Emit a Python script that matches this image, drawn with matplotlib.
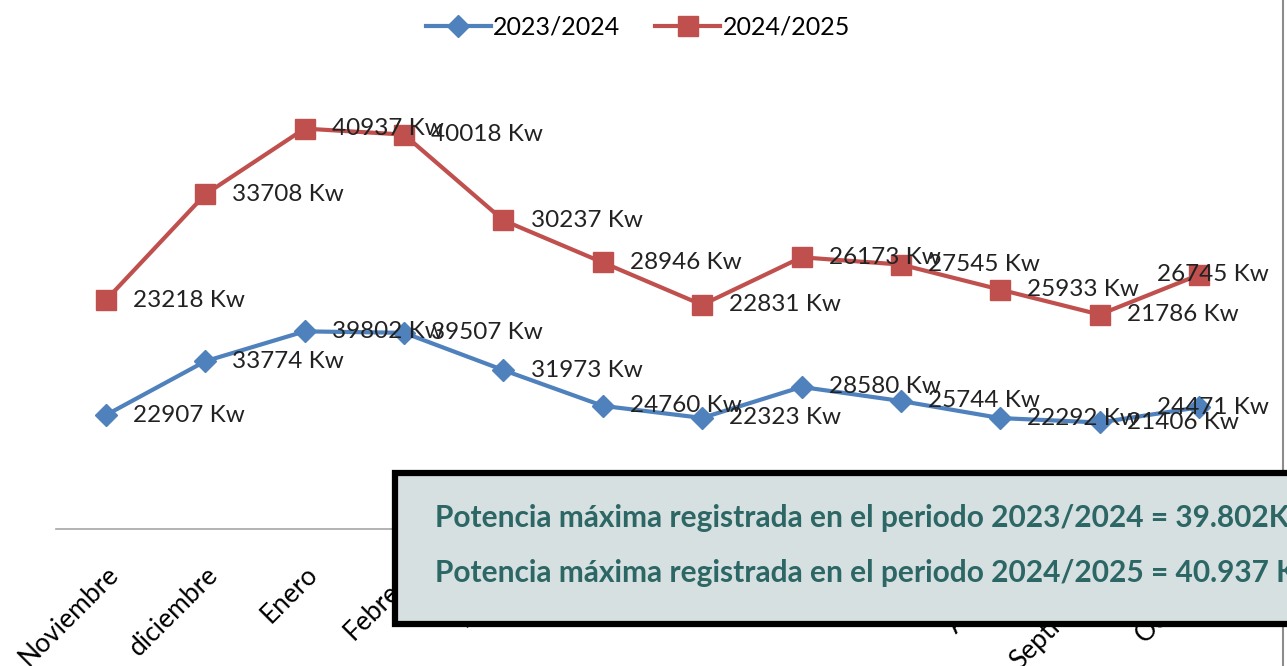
import matplotlib
matplotlib.use("Agg")
import matplotlib.pyplot as plt
from matplotlib.patches import Rectangle
from matplotlib.lines import Line2D
import numpy as np

meses = ["Noviembre", "diciembre", "Enero", "Febrero", "Marzo", "Abril",
         "Mayo", "Junio", "Julio", "Agosto", "Septiembre", "Octubre"]
serie_2324 = [22907, 33774, 39802, 39507, 31973, 24760, 22323, 28580, 25744, 22292, 21406, 24471]
serie_2425 = [23218, 33708, 40937, 40018, 30237, 28946, 22831, 26173, 27545, 25933, 21786, 26745]
nota = ["Potencia máxima registrada en el periodo 2023/2024 = 39.802Kw",
        "Potencia máxima registrada en el periodo 2024/2025 = 40.937 Kw"]

plt.rcParams["font.family"] = ["Lato", "DejaVu Sans"]
W, H = 1287, 666
fig = plt.figure(figsize=(W / 100, H / 100), dpi=100)
ax = fig.add_axes([56.3 / W, 137.5 / H, 1192.4 / W, 495.3 / H])

x = np.arange(len(meses))
azul = "#4f81bd"
rojo = "#c0504d"
y1 = np.array(serie_2324)
y2 = y1 + np.array(serie_2425)  # grafico de lineas apiladas

ax.plot(x, y1, color=azul, lw=3, marker="D", ms=11, label="2023/2024", zorder=3)
ax.plot(x, y2, color=rojo, lw=3, marker="s", ms=14, label="2024/2025", zorder=3)

for i in x:
    dx = 19.5 if i < len(meses) - 1 else -30
    ax.annotate(f"{serie_2324[i]} Kw", (i, y1[i]), xytext=(dx, 0), textcoords="offset points",
                ha="left", va="center", fontsize=17.5, color="#222222", zorder=4)
    ax.annotate(f"{serie_2425[i]} Kw", (i, y2[i]), xytext=(dx, 0), textcoords="offset points",
                ha="left", va="center", fontsize=17.5, color="#222222", zorder=4)

ax.set_xlim(-0.5, len(meses) - 0.5)
ax.set_ylim(0, 100000)
ax.set_xticks(x)
ax.set_xticklabels(meses, rotation=45, ha="right", rotation_mode="anchor", fontsize=19)
ax.tick_params(axis="x", length=0, pad=24)
ax.set_yticks([])
for s in ["top", "right", "left"]:
    ax.spines[s].set_visible(False)
ax.spines["bottom"].set_color("#a6a6a6")
ax.spines["bottom"].set_linewidth(1.2)

fig.legend(loc="upper center", bbox_to_anchor=(638 / W, 1.01), ncol=2, frameon=False,
           fontsize=18, handlelength=2.6, columnspacing=1.4, handletextpad=0.1)

fig.add_artist(Line2D([1283 / W, 1283 / W], [0, 1], color="#8c8c8c", lw=1.5, zorder=1))

caja = Rectangle((395 / W, 42 / H), 1000 / W, 151 / H, transform=fig.transFigure,
                 facecolor="#d6e0e0", edgecolor="black", lw=4.5, zorder=10)
fig.add_artist(caja)
fig.text(435 / W, (H - 518) / H, nota[0], fontsize=21.5, fontweight="bold", color="#2c6665",
         va="center", ha="left", zorder=11)
fig.text(435 / W, (H - 573) / H, nota[1], fontsize=21.5, fontweight="bold", color="#2c6665",
         va="center", ha="left", zorder=11)

fig.savefig("out.png", dpi=100)
